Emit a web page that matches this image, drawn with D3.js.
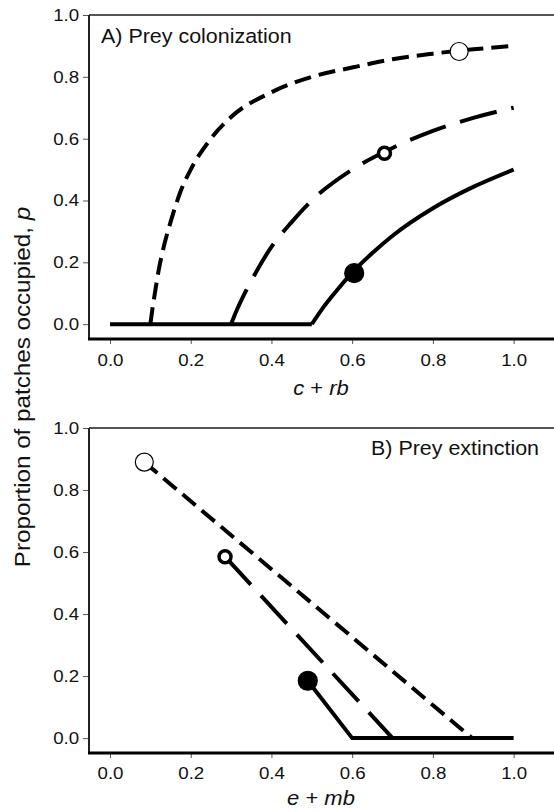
<!DOCTYPE html>
<html>
<head>
<meta charset="utf-8">
<script src="https://cdn.jsdelivr.net/npm/d3@7"></script>
<style>
  html, body { margin: 0; padding: 0; background: #fff; }
  svg { display: block; font-family: "Liberation Sans", Arial, sans-serif; }
</style>
</head>
<body>
<svg id="chart" width="554" height="812"></svg>
<script>
// ===== DATA =====
const xTicks = [0, 0.2, 0.4, 0.6, 0.8, 1.0];
const yTicks = [0, 0.2, 0.4, 0.6, 0.8, 1.0];

// Panel A: prey colonization
const aBaseX  = [0, 0.5];
const aBaseY  = [0, 0];
const aShortX = [0.1, 0.105, 0.11, 0.12, 0.135, 0.15, 0.175, 0.2, 0.25, 0.3, 0.4, 0.5, 0.6, 0.7, 0.8, 0.9, 1.0];
const aShortY = [0, 0.048, 0.09, 0.17, 0.26, 0.33, 0.43, 0.5, 0.6, 0.67, 0.75, 0.8, 0.83, 0.857, 0.875, 0.889, 0.9];
const aMedX   = [0.3, 0.315, 0.33, 0.35, 0.4, 0.45, 0.5, 0.6, 0.7, 0.8, 0.9, 1.0];
const aMedY   = [0, 0.048, 0.09, 0.14, 0.25, 0.33, 0.4, 0.5, 0.57, 0.625, 0.667, 0.7];
const aSolidX = [0.5, 0.525, 0.55, 0.6, 0.65, 0.7, 0.8, 0.9, 1.0];
const aSolidY = [0, 0.048, 0.09, 0.167, 0.23, 0.286, 0.375, 0.444, 0.5];
const aPts = [
  {x: 0.865, y: 0.882, kind: "open"},
  {x: 0.68,  y: 0.553, kind: "thick"},
  {x: 0.605, y: 0.165, kind: "filled"}
];

// Panel B: prey extinction
const bShortX = [0.085, 0.897];
const bShortY = [0.89, 0];
const bMedX   = [0.285, 0.7];
const bMedY   = [0.585, 0];
const bSolidX = [0.49, 0.6, 1.0];
const bSolidY = [0.185, 0, 0];
const bPts = [
  {x: 0.085, y: 0.89,  kind: "open"},
  {x: 0.285, y: 0.585, kind: "thick"},
  {x: 0.49,  y: 0.185, kind: "filled"}
];

const SX = 1.1; // glyphs in the figure are a bit wider than Arial
const svg = d3.select("#chart");
const fmt = d3.format(".1f");

function zip(xs, ys){ return xs.map((x,i)=>[x, ys[i]]); }

function panel(opt){
  const x = d3.scaleLinear().domain([-0.052, 1.1]).range([89, 554]);
  const y = d3.scaleLinear().domain([-0.048, 1.0]).range([opt.bottom, opt.top]);
  const g = svg.append("g");

  // axes
  const ya = g.append("g").attr("transform", "translate(89,0)")
    .call(d3.axisLeft(y).tickValues(yTicks).tickFormat(fmt).tickSize(6).tickPadding(3));
  const xa = g.append("g").attr("transform", `translate(0,${opt.bottom})`)
    .call(d3.axisBottom(x).tickValues(xTicks).tickFormat(fmt).tickSize(5).tickPadding(opt.xpad));
  [ya, xa].forEach(a => {
    a.select(".domain").remove();
    a.selectAll("line").attr("stroke", "#555").attr("stroke-width", 1);
    a.selectAll("text").attr("font-size", 17).attr("fill", "#111").attr("font-family", null)
      .attr("transform", `scale(${SX},1)`);
  });

  // frame
  g.append("line").attr("x1", 89).attr("x2", 554).attr("y1", opt.top).attr("y2", opt.top)
    .attr("stroke", "#555").attr("stroke-width", 2);
  g.append("line").attr("x1", 89).attr("x2", 89).attr("y1", opt.top).attr("y2", opt.bottom)
    .attr("stroke", "#222").attr("stroke-width", 2);
  g.append("line").attr("x1", 88).attr("x2", 554).attr("y1", opt.bottom).attr("y2", opt.bottom)
    .attr("stroke", "#000").attr("stroke-width", 3);

  // curves
  const smooth = d3.line().x(d=>x(d[0])).y(d=>y(d[1])).curve(opt.curve);
  const straight = d3.line().x(d=>x(d[0])).y(d=>y(d[1]));
  opt.series.forEach(s => {
    g.append("path").datum(zip(s.xs, s.ys))
      .attr("d", s.linear ? straight : smooth)
      .attr("fill", "none").attr("stroke", "#000").attr("stroke-width", 4)
      .attr("stroke-dasharray", s.dash || null);
  });

  // points
  g.selectAll("circle.pt").data(opt.pts).join("circle").attr("class", "pt")
    .attr("cx", d=>x(d.x)).attr("cy", d=>y(d.y))
    .attr("r", d=> d.kind==="thick" ? 6 : (d.kind==="filled" ? 9.5 : 9))
    .attr("fill", d=> d.kind==="filled" ? "#000" : "#fff")
    .attr("stroke", "#000")
    .attr("stroke-width", d=> d.kind==="thick" ? 3.5 : 1.2);

  // panel label
  g.append("text").attr("transform", `translate(${opt.lx},${opt.ly}) scale(${SX},1)`)
    .attr("text-anchor", opt.lanchor).attr("font-size", 19.5).attr("fill", "#111")
    .text(opt.label);

  // x title
  const t = g.append("text").attr("transform", `translate(321,${opt.ty}) scale(${SX},1)`)
    .attr("text-anchor", "middle").attr("font-size", 20).attr("fill", "#111");
  t.append("tspan").attr("font-style", "italic").text(opt.t1);
  t.append("tspan").text(" + ");
  t.append("tspan").attr("font-style", "italic").text(opt.t2);
}

const SHORT = "17 8", MED = "38 15";

panel({
  top: 15, bottom: 339, xpad: 10, curve: d3.curveMonotoneX,
  series: [
    {xs: aBaseX, ys: aBaseY, linear: true},
    {xs: aShortX, ys: aShortY, dash: SHORT},
    {xs: aMedX, ys: aMedY, dash: MED},
    {xs: aSolidX, ys: aSolidY}
  ],
  pts: aPts, label: "A) Prey colonization", lx: 101, ly: 43, lanchor: "start",
  ty: 395, t1: "c", t2: "rb"
});

panel({
  top: 428, bottom: 753, xpad: 9, curve: d3.curveLinear,
  series: [
    {xs: bShortX, ys: bShortY, linear: true, dash: SHORT},
    {xs: bMedX, ys: bMedY, linear: true, dash: MED},
    {xs: bSolidX, ys: bSolidY, linear: true}
  ],
  pts: bPts, label: "B) Prey extinction", lx: 539, ly: 455, lanchor: "end",
  ty: 805, t1: "e", t2: "mb"
});

// shared y title
svg.append("text").attr("transform", `translate(30,387) rotate(-90) scale(${SX},1)`)
  .attr("text-anchor", "middle").attr("font-size", 22).attr("fill", "#111")
  .call(t => {
    t.append("tspan").text("Proportion of patches occupied, ");
    t.append("tspan").attr("font-style", "italic").text("p");
  });
</script>
</body>
</html>
